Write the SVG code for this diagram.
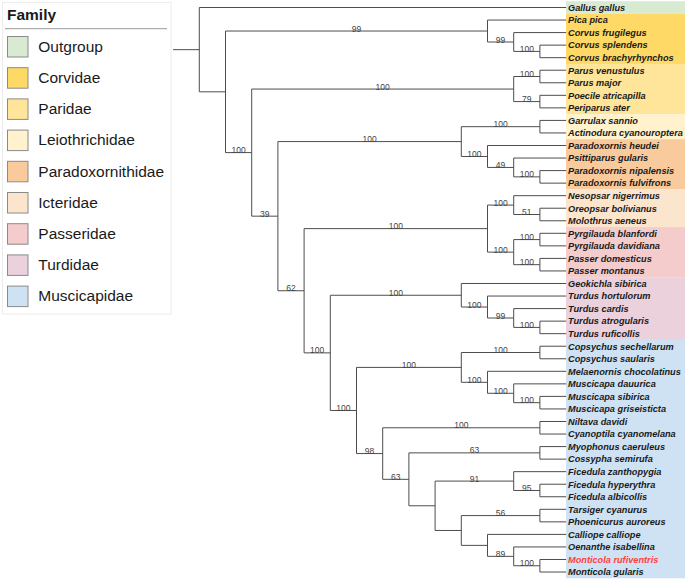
<svg xmlns="http://www.w3.org/2000/svg" width="685" height="581" viewBox="0 0 685 581">
<style>
.br{fill:none;stroke:#4d4d4d;stroke-width:1}
.bs{font-family:"Liberation Sans",Arial,sans-serif;font-size:8.5px;fill:#444;text-anchor:middle}
.tip{font-family:"Liberation Sans",Arial,sans-serif;font-size:9.2px;font-weight:bold;font-style:italic;fill:#1a1a1a}
.red{fill:#ff4040}
.lg{font-family:"Liberation Sans",Arial,sans-serif;font-size:15.5px;fill:#1a1a1a}
.sw{stroke:#8a8a8a;stroke-width:1}
</style>
<rect width="685" height="581" fill="#fff"/>
<g id="bands">
<rect x="566" y="1.23" width="119" height="12.54" fill="#d9ead3"/>
<rect x="566" y="13.77" width="119" height="50.18" fill="#ffd966"/>
<rect x="566" y="63.95" width="119" height="50.19" fill="#ffe599"/>
<rect x="566" y="114.14" width="119" height="25.08" fill="#fff2cc"/>
<rect x="566" y="139.22" width="119" height="50.19" fill="#f9cb9c"/>
<rect x="566" y="189.41" width="119" height="37.63" fill="#fce5cd"/>
<rect x="566" y="227.04" width="119" height="50.18" fill="#f4cccc"/>
<rect x="566" y="277.22" width="119" height="62.73" fill="#ead1dc"/>
<rect x="566" y="339.95" width="119" height="238.35" fill="#cfe2f3"/>
</g>
<g id="legend">
<rect x="2.5" y="2.5" width="168.5" height="311.5" fill="#fff" stroke="#ececec" stroke-width="1"/>
<text x="7" y="19.5" class="lg" font-weight="bold" font-size="15px">Family</text>
<line x1="5" y1="28.7" x2="167" y2="28.7" stroke="#999" stroke-width="1"/>
<rect class="sw" x="7.5" y="36.5" width="20.5" height="20.5" fill="#d9ead3"/><text class="lg" x="38.3" y="51.8">Outgroup</text>
<rect class="sw" x="7.5" y="67.7" width="20.5" height="20.5" fill="#ffd966"/><text class="lg" x="38.3" y="83">Corvidae</text>
<rect class="sw" x="7.5" y="98.9" width="20.5" height="20.5" fill="#ffe599"/><text class="lg" x="38.3" y="114.2">Paridae</text>
<rect class="sw" x="7.5" y="130.1" width="20.5" height="20.5" fill="#fff2cc"/><text class="lg" x="38.3" y="145.4">Leiothrichidae</text>
<rect class="sw" x="7.5" y="161.3" width="20.5" height="20.5" fill="#f9cb9c"/><text class="lg" x="38.3" y="176.6">Paradoxornithidae</text>
<rect class="sw" x="7.5" y="192.5" width="20.5" height="20.5" fill="#fce5cd"/><text class="lg" x="38.3" y="207.8">Icteridae</text>
<rect class="sw" x="7.5" y="223.7" width="20.5" height="20.5" fill="#f4cccc"/><text class="lg" x="38.3" y="239">Passeridae</text>
<rect class="sw" x="7.5" y="254.9" width="20.5" height="20.5" fill="#ead1dc"/><text class="lg" x="38.3" y="270.2">Turdidae</text>
<rect class="sw" x="7.5" y="286.1" width="20.5" height="20.5" fill="#cfe2f3"/><text class="lg" x="38.3" y="301.4">Muscicapidae</text>
</g>
<g id="connectors">
<path class="br" d="M173.1 49.66H199.3"/>
<path class="br" d="M566.1 7.5H199.3V91.82H225.5"/>
<path class="br" d="M487.5 31.03H225.5V152.6H251.7"/>
<path class="br" d="M566.1 20.05H487.5V42H513.7"/>
<path class="br" d="M566.1 32.59H513.7V51.41H539.9"/>
<path class="br" d="M566.1 45.14H539.9V57.68H566.1"/>
<path class="br" d="M513.7 89.05H251.7V216.16H277.9"/>
<path class="br" d="M539.9 76.5H513.7V101.59H539.9"/>
<path class="br" d="M566.1 70.23H539.9V82.77H566.1"/>
<path class="br" d="M566.1 95.32H539.9V107.86H566.1"/>
<path class="br" d="M461.3 141.58H277.9V290.74H304.1"/>
<path class="br" d="M539.9 126.68H461.3V156.48H487.5"/>
<path class="br" d="M566.1 120.41H539.9V132.95H566.1"/>
<path class="br" d="M566.1 145.5H487.5V167.45H513.7"/>
<path class="br" d="M566.1 158.04H513.7V176.86H539.9"/>
<path class="br" d="M566.1 170.59H539.9V183.13H566.1"/>
<path class="br" d="M487.5 228.61H304.1V352.87H330.3"/>
<path class="br" d="M513.7 205.09H487.5V252.13H513.7"/>
<path class="br" d="M566.1 195.68H513.7V214.5H539.9"/>
<path class="br" d="M566.1 208.22H539.9V220.77H566.1"/>
<path class="br" d="M539.9 239.59H513.7V264.68H539.9"/>
<path class="br" d="M566.1 233.31H539.9V245.86H566.1"/>
<path class="br" d="M566.1 258.4H539.9V270.95H566.1"/>
<path class="br" d="M461.3 295.26H330.3V410.48H356.5"/>
<path class="br" d="M566.1 283.49H461.3V307.02H487.5"/>
<path class="br" d="M566.1 296.04H487.5V318H513.7"/>
<path class="br" d="M566.1 308.59H513.7V327.41H539.9"/>
<path class="br" d="M566.1 321.13H539.9V333.68H566.1"/>
<path class="br" d="M461.3 367.4H356.5V453.55H382.7"/>
<path class="br" d="M539.9 352.5H461.3V382.29H487.5"/>
<path class="br" d="M566.1 346.22H539.9V358.77H566.1"/>
<path class="br" d="M566.1 371.31H487.5V393.27H513.7"/>
<path class="br" d="M566.1 383.86H513.7V402.68H539.9"/>
<path class="br" d="M566.1 396.4H539.9V408.95H566.1"/>
<path class="br" d="M539.9 427.77H382.7V479.32H408.9"/>
<path class="br" d="M566.1 421.49H539.9V434.04H566.1"/>
<path class="br" d="M539.9 452.86H408.9V505.78H435.1"/>
<path class="br" d="M566.1 446.58H539.9V459.13H566.1"/>
<path class="br" d="M513.7 481.08H435.1V530.48H461.3"/>
<path class="br" d="M566.1 471.67H513.7V490.49H539.9"/>
<path class="br" d="M566.1 484.22H539.9V496.76H566.1"/>
<path class="br" d="M539.9 515.58H461.3V545.38H487.5"/>
<path class="br" d="M566.1 509.31H539.9V521.85H566.1"/>
<path class="br" d="M566.1 534.4H487.5V556.35H513.7"/>
<path class="br" d="M566.1 546.94H513.7V565.76H539.9"/>
<path class="br" d="M566.1 559.49H539.9V572.03H566.1"/>
</g>
<g id="support">
<text class="bs" x="356.5" y="31.5">99</text>
<text class="bs" x="500.6" y="42.5">99</text>
<text class="bs" x="526.8" y="51.9">100</text>
<text class="bs" x="238.6" y="153.1">100</text>
<text class="bs" x="382.7" y="89.5">100</text>
<text class="bs" x="526.8" y="77">100</text>
<text class="bs" x="526.8" y="102.1">79</text>
<text class="bs" x="264.8" y="216.7">39</text>
<text class="bs" x="369.6" y="142.1">100</text>
<text class="bs" x="500.6" y="127.2">100</text>
<text class="bs" x="474.4" y="157">100</text>
<text class="bs" x="500.6" y="168">49</text>
<text class="bs" x="526.8" y="177.4">100</text>
<text class="bs" x="291" y="291.2">62</text>
<text class="bs" x="395.8" y="229.1">100</text>
<text class="bs" x="500.6" y="205.6">100</text>
<text class="bs" x="526.8" y="215">51</text>
<text class="bs" x="500.6" y="252.6">100</text>
<text class="bs" x="526.8" y="240.1">100</text>
<text class="bs" x="526.8" y="265.2">100</text>
<text class="bs" x="317.2" y="353.4">100</text>
<text class="bs" x="395.8" y="295.8">100</text>
<text class="bs" x="474.4" y="307.5">100</text>
<text class="bs" x="500.6" y="318.5">99</text>
<text class="bs" x="526.8" y="327.9">100</text>
<text class="bs" x="343.4" y="411">100</text>
<text class="bs" x="408.9" y="367.9">100</text>
<text class="bs" x="500.6" y="353">100</text>
<text class="bs" x="474.4" y="382.8">100</text>
<text class="bs" x="500.6" y="393.8">100</text>
<text class="bs" x="526.8" y="403.2">100</text>
<text class="bs" x="369.6" y="454.1">98</text>
<text class="bs" x="461.3" y="428.3">100</text>
<text class="bs" x="395.8" y="479.8">63</text>
<text class="bs" x="474.4" y="453.4">63</text>
<text class="bs" x="474.4" y="481.6">91</text>
<text class="bs" x="526.8" y="491">95</text>
<text class="bs" x="500.6" y="516.1">56</text>
<text class="bs" x="500.6" y="556.9">89</text>
<text class="bs" x="526.8" y="566.3">100</text>
</g>
<g id="tips">
<g id="t0"><text class="tip" x="568" y="10.8">Gallus gallus</text></g>
<g id="t1"><text class="tip" x="568" y="23.35">Pica pica</text></g>
<g id="t2"><text class="tip" x="568" y="35.89">Corvus frugilegus</text></g>
<g id="t3"><text class="tip" x="568" y="48.44">Corvus splendens</text></g>
<g id="t4"><text class="tip" x="568" y="60.98">Corvus brachyrhynchos</text></g>
<g id="t5"><text class="tip" x="568" y="73.53">Parus venustulus</text></g>
<g id="t6"><text class="tip" x="568" y="86.07">Parus major</text></g>
<g id="t7"><text class="tip" x="568" y="98.62">Poecile atricapilla</text></g>
<g id="t8"><text class="tip" x="568" y="111.16">Periparus ater</text></g>
<g id="t9"><text class="tip" x="568" y="123.71">Garrulax sannio</text></g>
<g id="t10"><text class="tip" x="568" y="136.25">Actinodura cyanouroptera</text></g>
<g id="t11"><text class="tip" x="568" y="148.8">Paradoxornis heudei</text></g>
<g id="t12"><text class="tip" x="568" y="161.34">Psittiparus gularis</text></g>
<g id="t13"><text class="tip" x="568" y="173.89">Paradoxornis nipalensis</text></g>
<g id="t14"><text class="tip" x="568" y="186.43">Paradoxornis fulvifrons</text></g>
<g id="t15"><text class="tip" x="568" y="198.98">Nesopsar nigerrimus</text></g>
<g id="t16"><text class="tip" x="568" y="211.52">Oreopsar bolivianus</text></g>
<g id="t17"><text class="tip" x="568" y="224.07">Molothrus aeneus</text></g>
<g id="t18"><text class="tip" x="568" y="236.61">Pyrgilauda blanfordi</text></g>
<g id="t19"><text class="tip" x="568" y="249.16">Pyrgilauda davidiana</text></g>
<g id="t20"><text class="tip" x="568" y="261.7">Passer domesticus</text></g>
<g id="t21"><text class="tip" x="568" y="274.25">Passer montanus</text></g>
<g id="t22"><text class="tip" x="568" y="286.79">Geokichla sibirica</text></g>
<g id="t23"><text class="tip" x="568" y="299.34">Turdus hortulorum</text></g>
<g id="t24"><text class="tip" x="568" y="311.89">Turdus cardis</text></g>
<g id="t25"><text class="tip" x="568" y="324.43">Turdus atrogularis</text></g>
<g id="t26"><text class="tip" x="568" y="336.98">Turdus ruficollis</text></g>
<g id="t27"><text class="tip" x="568" y="349.52">Copsychus sechellarum</text></g>
<g id="t28"><text class="tip" x="568" y="362.07">Copsychus saularis</text></g>
<g id="t29"><text class="tip" x="568" y="374.61">Melaenornis chocolatinus</text></g>
<g id="t30"><text class="tip" x="568" y="387.16">Muscicapa dauurica</text></g>
<g id="t31"><text class="tip" x="568" y="399.7">Muscicapa sibirica</text></g>
<g id="t32"><text class="tip" x="568" y="412.25">Muscicapa griseisticta</text></g>
<g id="t33"><text class="tip" x="568" y="424.79">Niltava davidi</text></g>
<g id="t34"><text class="tip" x="568" y="437.34">Cyanoptila cyanomelana</text></g>
<g id="t35"><text class="tip" x="568" y="449.88">Myophonus caeruleus</text></g>
<g id="t36"><text class="tip" x="568" y="462.43">Cossypha semirufa</text></g>
<g id="t37"><text class="tip" x="568" y="474.97">Ficedula zanthopygia</text></g>
<g id="t38"><text class="tip" x="568" y="487.52">Ficedula hyperythra</text></g>
<g id="t39"><text class="tip" x="568" y="500.06">Ficedula albicollis</text></g>
<g id="t40"><text class="tip" x="568" y="512.61">Tarsiger cyanurus</text></g>
<g id="t41"><text class="tip" x="568" y="525.15">Phoenicurus auroreus</text></g>
<g id="t42"><text class="tip" x="568" y="537.7">Calliope calliope</text></g>
<g id="t43"><text class="tip" x="568" y="550.24">Oenanthe isabellina</text></g>
<g id="t44"><text class="tip red" x="568" y="562.79">Monticola rufiventris</text></g>
<g id="t45"><text class="tip" x="568" y="575.33">Monticola gularis</text></g>
</g>
</svg>
